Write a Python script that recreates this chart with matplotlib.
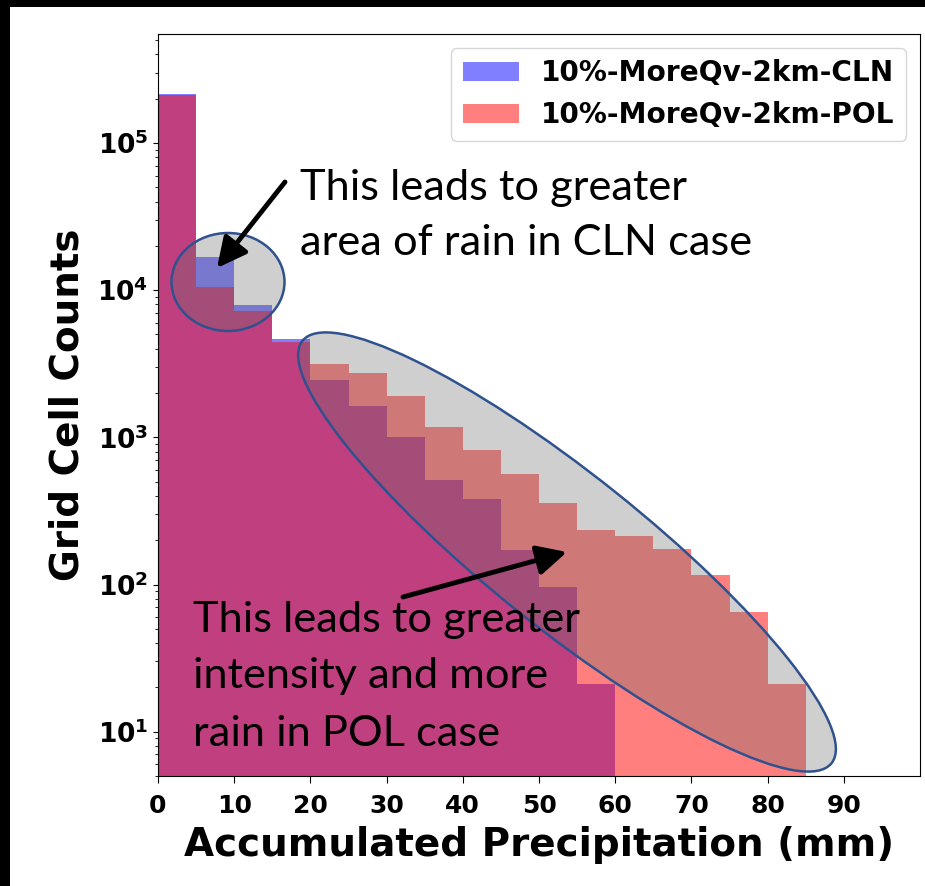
import numpy as np
import matplotlib
matplotlib.use("Agg")
import matplotlib.pyplot as plt
from matplotlib.patches import Ellipse, Rectangle
from matplotlib.transforms import IdentityTransform

# histogram bins (mm) and grid-cell counts per bin
bin_edges = np.arange(0, 90, 5)
cln_counts = [2.15e5, 1.67e4, 7.9e3, 4.63e3, 2.44e3, 1.64e3, 1.0e3, 515, 383,
              171, 96, 21, 0, 0, 0, 0, 0]
pol_counts = [2.12e5, 1.05e4, 7.2e3, 4.45e3, 3.17e3, 2.74e3, 1.92e3, 1.18e3, 825,
              564, 359, 233, 213, 173, 116, 65, 21]
labels = ['10%-MoreQv-2km-CLN', '10%-MoreQv-2km-POL']
xticks = np.arange(0, 100, 10)

W, H = 925, 886
fig = plt.figure(figsize=(W / 100, H / 100), dpi=100)
fig.patch.set_facecolor('black')
fig.patches.append(Rectangle((10 / W, 0), 1, 1 - 7 / H, transform=fig.transFigure,
                             facecolor='white', edgecolor='none', zorder=-10))

ax = fig.add_axes([158 / W, 1 - 776 / H, (920 - 158) / W, (776 - 34) / H])
ax.bar(bin_edges[:-1], cln_counts, width=5, align='edge', color='blue', alpha=0.5, label=labels[0])
ax.bar(bin_edges[:-1], pol_counts, width=5, align='edge', color='red', alpha=0.5, label=labels[1])
ax.set_yscale('log')


def pix(x, y):
    # screen pixels (origin top-left) -> display coords
    return (x, H - y)


# highlight ellipses
for (cx, cy), w, h, ang in [((228, 282), 113, 98, 0), ((567, 552), 677, 154, -38.6)]:
    ax.add_patch(Ellipse(pix(cx, cy), w, h, angle=ang, transform=IdentityTransform(),
                         facecolor=(0.42, 0.42, 0.42, 0.32), edgecolor='#2f528f',
                         linewidth=1.8, zorder=3, clip_on=False))

# arrows
for tail, tip in [((285, 182), (217, 268)), ((403, 597), (567, 552))]:
    ax.annotate('', xy=pix(*tip), xytext=pix(*tail), xycoords='figure pixels',
                textcoords='figure pixels',
                arrowprops=dict(arrowstyle='-|>,head_length=0.9,head_width=0.45',
                                lw=3.5, color='black', mutation_scale=20,
                                shrinkA=0, shrinkB=0), zorder=4)

note_font = dict(family='Lato', fontsize=31.2, color='black', zorder=5)
for (x, y), line in zip([(300, 200), (300, 255)],
                        ['This leads to greater', 'area of rain in CLN case']):
    ax.annotate(line, xy=pix(x, y), xycoords='figure pixels', va='baseline', ha='left', **note_font)
for (x, y), line in zip([(193, 632), (193, 688), (193, 746)],
                        ['This leads to greater', 'intensity and more', 'rain in POL case']):
    ax.annotate(line, xy=pix(x, y), xycoords='figure pixels', va='baseline', ha='left', **note_font)

ax.set_xlim(0, 100)
ax.set_ylim(5, 5.5e5)
ax.set_xticks(xticks)
ax.tick_params(axis='x', length=5, pad=8)
for lab in ax.get_xticklabels():
    lab.set_fontsize(18)
    lab.set_fontweight('bold')
for lab in ax.get_yticklabels():
    lab.set_fontsize(19)
    lab.set_fontweight('bold')
ax.set_xlabel('Accumulated Precipitation (mm)', fontsize=28, fontweight='bold', labelpad=6)
ax.set_ylabel('Grid Cell Counts', fontsize=28, fontweight='bold', labelpad=8)
ax.legend(loc='upper right', prop=dict(size=20.2, weight='bold'))

fig.savefig('out.png', dpi=100, facecolor=fig.get_facecolor())
